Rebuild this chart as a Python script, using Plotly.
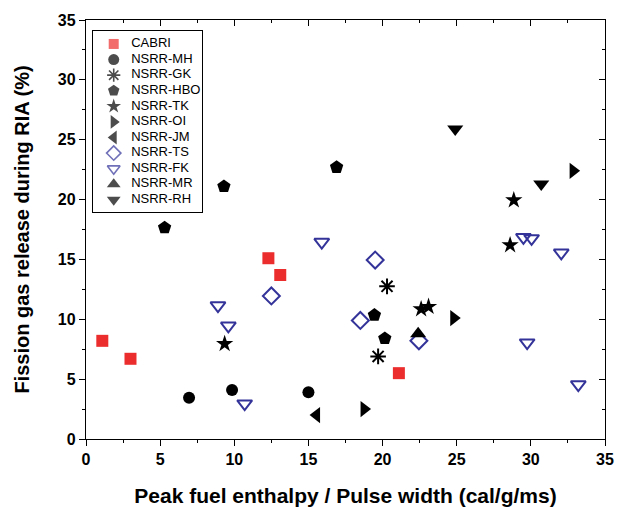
import plotly.graph_objects as go

FONT = "Liberation Sans, Arial, sans-serif"

names = ["CABRI", "NSRR-MH", "NSRR-GK", "NSRR-HBO", "NSRR-TK", "NSRR-OI",
         "NSRR-JM", "NSRR-TS", "NSRR-FK", "NSRR-MR", "NSRR-RH"]

cabri_x = [1.1, 3.0, 12.3, 13.1, 21.1]
cabri_y = [8.2, 6.7, 15.1, 13.7, 5.5]
mh_x = [6.95, 9.85, 15.0]
mh_y = [3.45, 4.1, 3.9]
gk_x = [20.3, 19.7]
gk_y = [12.75, 6.9]
hbo_x = [5.3, 9.3, 16.9, 19.45, 20.15]
hbo_y = [17.65, 21.1, 22.7, 10.35, 8.4]
tk_x = [9.35, 22.6, 23.1, 28.85, 28.6]
tk_y = [7.95, 10.85, 11.05, 19.95, 16.2]
oi_x = [24.8, 18.75, 32.85]
oi_y = [10.1, 2.5, 22.4]
jm_x = [15.55]
jm_y = [2.0]
ts_x = [12.5, 19.5, 18.5, 22.45]
ts_y = [11.95, 14.95, 9.9, 8.2]
fk_x = [8.9, 9.6, 10.7, 15.9, 29.75, 33.2, 29.5, 30.05, 32.05]
fk_y = [11.15, 9.45, 2.95, 16.45, 8.05, 4.55, 16.85, 16.75, 15.55]
mr_x = [22.4]
mr_y = [8.8]
rh_x = [24.9, 30.7]
rh_y = [25.9, 21.3]

xs = [cabri_x, mh_x, gk_x, hbo_x, tk_x, oi_x, jm_x, ts_x, fk_x, mr_x, rh_x]
ys = [cabri_y, mh_y, gk_y, hbo_y, tk_y, oi_y, jm_y, ts_y, fk_y, mr_y, rh_y]

RED = "#ec2d2d"
NAVY = "#33339a"
symbols = ["square", "circle", "asterisk-open", "pentagon", "star", "triangle-right",
           "triangle-left", "diamond-open", "triangle-down-open", "triangle-up",
           "triangle-down"]
colors = [RED, "black", "black", "black", "black", "black", "black", NAVY, NAVY,
          "black", "black"]
sizes = [12, 12, 13, 14, 13, 14, 14, 13, 13, 14, 14]
line_w = [0, 0, 2, 0, 0, 0, 0, 2, 2, 0, 0]
legend_sizes = [10, 11, 11, 12, 11, 12, 12, 11, 11, 12, 12]

fig = go.Figure()
for n, x, y, sym, c, s, lw in zip(names, xs, ys, symbols, colors, sizes, line_w):
    fig.add_trace(go.Scatter(
        x=x, y=y, mode="markers", name=n, showlegend=False,
        marker=dict(symbol=sym, color=c, size=s, line=dict(color=c, width=lw))))

# legend drawn as its own small subplot (box + markers + labels)
idx = list(range(len(names)))
fig.add_trace(go.Scatter(
    x=[0.19] * len(names), y=idx, mode="markers", xaxis="x3", yaxis="y3",
    showlegend=False, hoverinfo="skip",
    marker=dict(symbol=symbols, color=colors, size=legend_sizes,
                line=dict(color=colors, width=[w * 0.8 for w in line_w]))))
fig.add_trace(go.Scatter(
    x=[0.35] * len(names), y=idx, mode="text", text=names, xaxis="x3", yaxis="y3",
    textposition="middle right", showlegend=False, hoverinfo="skip",
    textfont=dict(family=FONT, size=13, color="black")))

# invisible helper trace to create mirror axes with inward ticks
fig.add_trace(go.Scatter(x=[], y=[], xaxis="x2", yaxis="y2", showlegend=False,
                         hoverinfo="skip"))

tickfont = dict(family=FONT, size=16, color="black")
common = dict(range=[0, 35], dtick=5, showgrid=False, zeroline=False,
              showline=True, linecolor="black", linewidth=1.3,
              ticklen=6, tickwidth=1.3, tickcolor="black", automargin=False)

fig.update_layout(
    width=632, height=507,
    margin=dict(l=86, r=27, t=20, b=68),
    paper_bgcolor="white", plot_bgcolor="white",
    font=dict(family=FONT, color="black"),
    xaxis=dict(**common, ticks="outside", tickfont=tickfont,
               minor=dict(ticks="outside", dtick=2.5, ticklen=3, tickcolor="black"),
               title=dict(text="<b>Peak fuel enthalpy / Pulse width (cal/g/ms)</b>",
                          font=dict(family=FONT, size=21), standoff=20),
               tickprefix="<b>", ticksuffix="</b>"),
    yaxis=dict(**common, ticks="outside", tickfont=tickfont,
               minor=dict(ticks="outside", dtick=2.5, ticklen=3, tickcolor="black"),
               title=dict(text="<b>Fission gas release during RIA (%)</b>",
                          font=dict(family=FONT, size=20), standoff=22),
               tickprefix="<b>", ticksuffix="</b>"),
    xaxis2=dict(**common, overlaying="x", side="top", ticks="inside",
                showticklabels=False,
                minor=dict(ticks="inside", dtick=2.5, ticklen=3, tickcolor="black")),
    yaxis2=dict(**common, overlaying="y", side="right", ticks="inside",
                showticklabels=False,
                minor=dict(ticks="inside", dtick=2.5, ticklen=3, tickcolor="black")),
    xaxis3=dict(domain=[0.0135, 0.2235], anchor="y3", range=[0, 1],
                showline=True, mirror=True, linecolor="black", linewidth=1,
                showgrid=False, zeroline=False, showticklabels=False, ticks=""),
    yaxis3=dict(domain=[0.5418, 0.9737], anchor="x3", range=[10.78, -0.83],
                showline=True, mirror=True, linecolor="black", linewidth=1,
                showgrid=False, zeroline=False, showticklabels=False, ticks=""),
    showlegend=False,
)

fig.write_html("out.html")
